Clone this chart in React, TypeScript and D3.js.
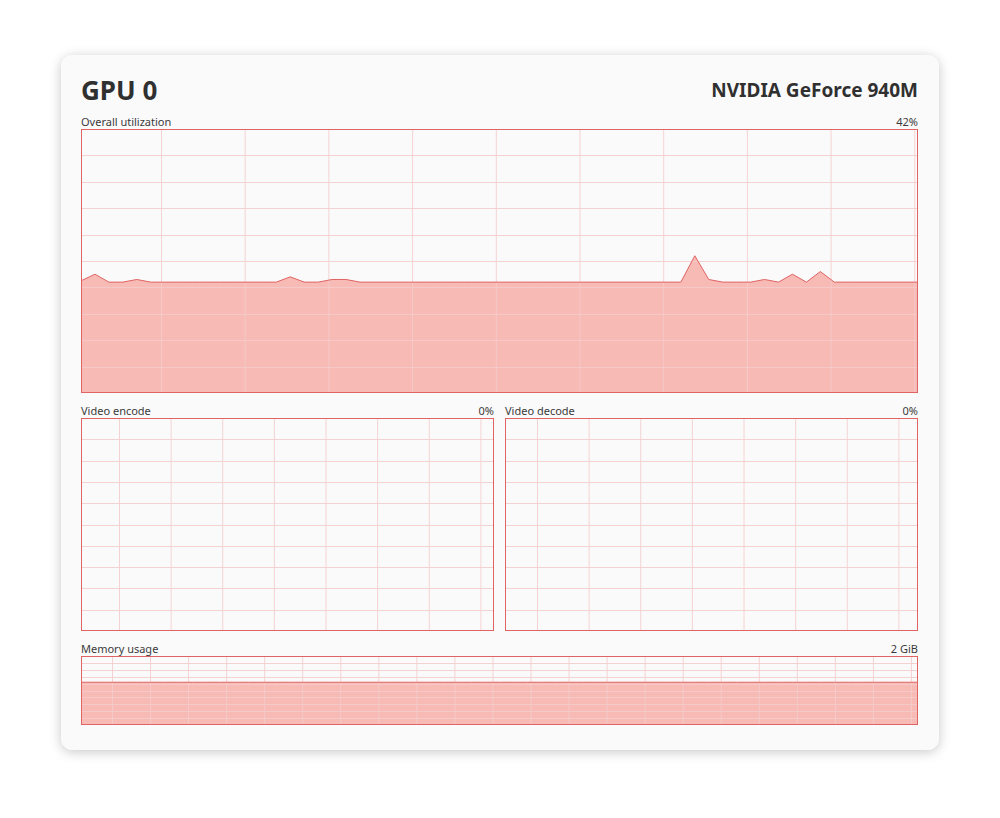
import React from "react";
import * as d3 from "d3";

const utilization: number[] = [
  42.5, 45, 42, 42, 43, 42, 42, 42, 42, 42, 42, 42, 42, 42, 42, 44, 42, 42, 43, 43,
  42, 42, 42, 42, 42, 42, 42, 42, 42, 42, 42, 42, 42, 42, 42, 42, 42, 42, 42, 42,
  42, 42, 42, 42, 52, 43, 42, 42, 42, 43, 42, 45, 42, 46, 42, 42, 42, 42, 42, 42, 42,
];
const videoEncode: number[] = Array.from({ length: 61 }, () => 0);
const videoDecode: number[] = Array.from({ length: 61 }, () => 0);
const memoryUsage: number[] = Array.from({ length: 61 }, () => 62);

const titleText = "GPU 0";
const deviceName = "NVIDIA GeForce 940M";
const panelLabels = ["Overall utilization", "Video encode", "Video decode", "Memory usage"];
const panelValues = ["42%", "0%", "0%", "2 GiB"];

const RED = "#e06464";
const FILL = "#f7bab4";
const GRID = "#f5cccc";
const TEXT = "#3a3a3a";
const FONT = "'Noto Sans', 'Open Sans', sans-serif";

type PanelProps = {
  x: number; y: number; w: number; h: number;
  data: number[]; vDiv: number; vOffset: number; hDiv: number;
  label: string; value: string;
};

function Panel({ x, y, w, h, data, vDiv, vOffset, hDiv, label, value }: PanelProps) {
  const xs = d3.scaleLinear().domain([0, data.length - 1]).range([x, x + w]);
  const ys = d3.scaleLinear().domain([0, 100]).range([y + h, y]);
  const area = d3.area<number>().x((_, i) => xs(i)).y0(y + h).y1((d) => ys(d));
  const line = d3.line<number>().x((_, i) => xs(i)).y((d) => ys(d));
  const step = w / vDiv;
  const vLines: number[] = [];
  for (let gx = x + vOffset; gx < x + w - 1; gx += step) vLines.push(gx);
  const hLines = d3.range(1, hDiv).map((k) => y + (h * k) / hDiv);
  const hasData = data.some((d) => d > 0);
  return (
    <g>
      <text x={x} y={y - 3} fontSize={11} fill={TEXT} fontFamily={FONT}>{label}</text>
      <text x={x + w} y={y - 3} fontSize={11} fill={TEXT} fontFamily={FONT} textAnchor="end">{value}</text>
      <rect x={x} y={y} width={w} height={h} fill="#fafafa" />
      {hasData && <path d={area(data) || ""} fill={FILL} />}
      {vLines.map((gx, i) => (
        <line key={"v" + i} x1={gx + 0.5} x2={gx + 0.5} y1={y} y2={y + h} stroke={GRID} strokeWidth={1} opacity={0.85} />
      ))}
      {hLines.map((gy, i) => (
        <line key={"h" + i} x1={x} x2={x + w} y1={Math.round(gy) + 0.5} y2={Math.round(gy) + 0.5} stroke={GRID} strokeWidth={1} opacity={0.85} />
      ))}
      {hasData && <path d={line(data) || ""} fill="none" stroke={RED} strokeWidth={1} />}
      <rect x={x + 0.5} y={y + 0.5} width={w - 1} height={h - 1} fill="none" stroke={RED} strokeWidth={1} />
    </g>
  );
}

export default function App() {
  return (
    <svg width={1000} height={818} style={{ position: "absolute", left: 0, top: 0, background: "#ffffff" }}>
      <defs>
        <filter id="shadow" x="-10%" y="-10%" width="120%" height="125%">
          <feDropShadow dx="0" dy="2" stdDeviation="6" floodColor="#000" floodOpacity="0.22" />
        </filter>
      </defs>
      <rect x={61} y={55} width={878} height={695} rx={12} ry={12} fill="#fafafa" filter="url(#shadow)" />
      <text x={81} y={100} fontSize={26} fontWeight={700} fill="#303030" fontFamily={FONT}>{titleText}</text>
      <text x={918} y={97} fontSize={19} fontWeight={700} fill="#303030" fontFamily={FONT} textAnchor="end">{deviceName}</text>
      <Panel x={81} y={129} w={837} h={264} data={utilization} vDiv={10} vOffset={80} hDiv={10} label={panelLabels[0]} value={panelValues[0]} />
      <Panel x={81} y={418} w={413} h={213} data={videoEncode} vDiv={8} vOffset={38} hDiv={10} label={panelLabels[1]} value={panelValues[1]} />
      <Panel x={505} y={418} w={413} h={213} data={videoDecode} vDiv={8} vOffset={32} hDiv={10} label={panelLabels[2]} value={panelValues[2]} />
      <Panel x={81} y={656} w={837} h={69} data={memoryUsage} vDiv={22} vOffset={31} hDiv={10} label={panelLabels[3]} value={panelValues[3]} />
    </svg>
  );
}
